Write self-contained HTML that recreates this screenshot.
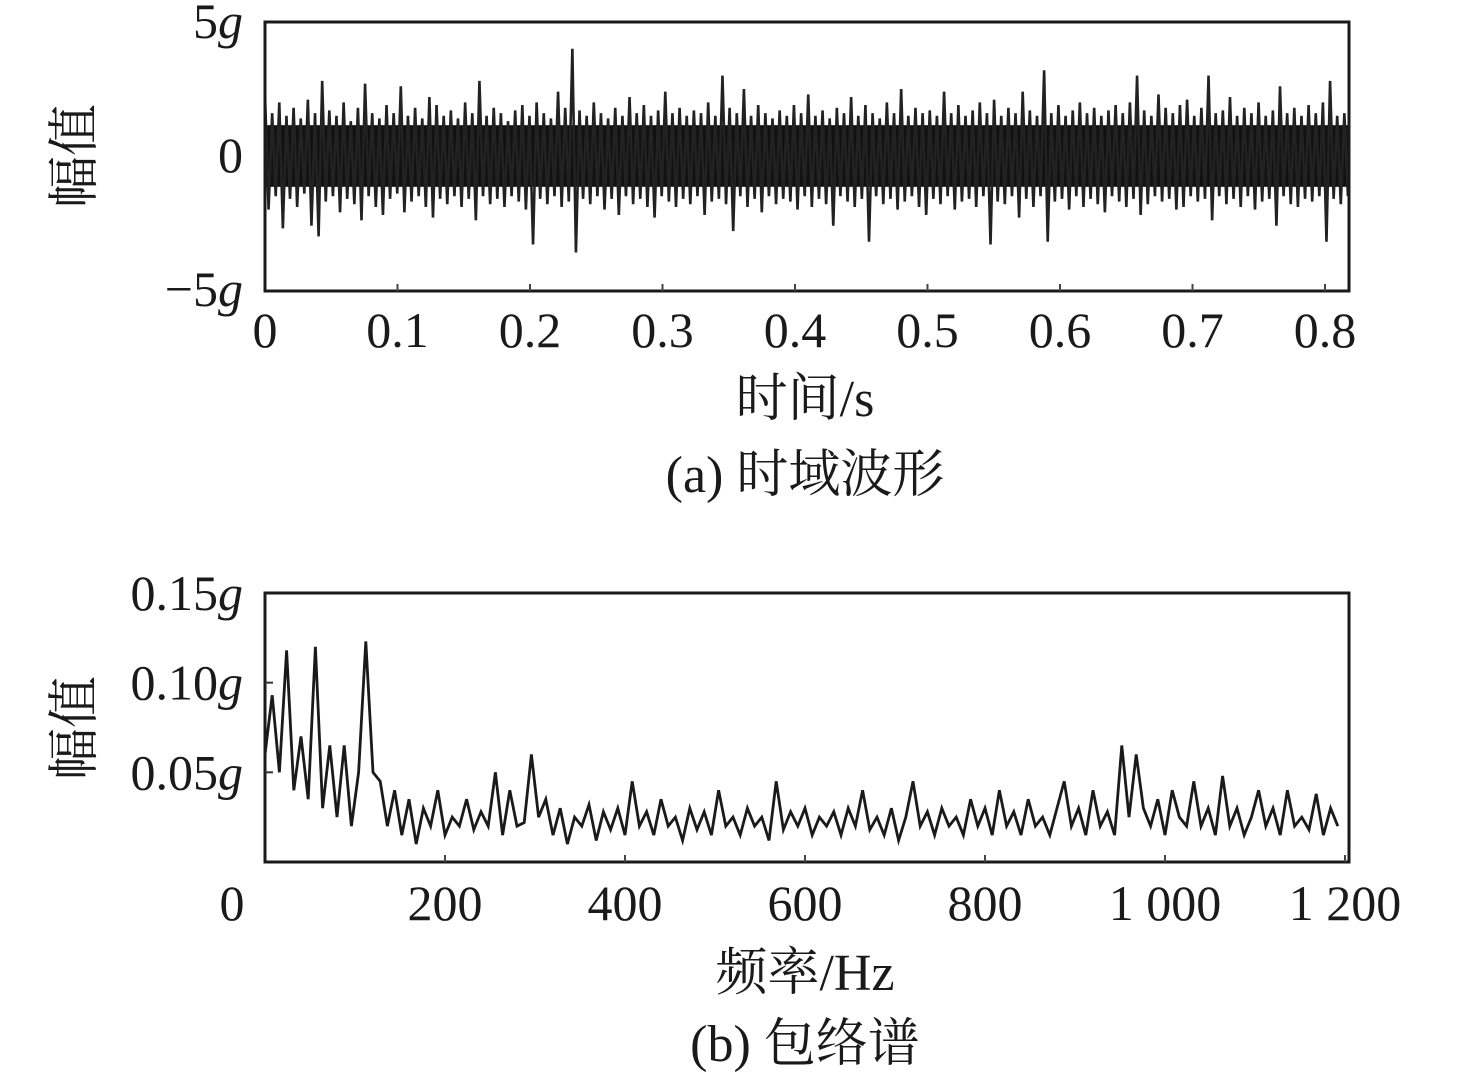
<!DOCTYPE html>
<html><head><meta charset="utf-8">
<style>
html,body{margin:0;padding:0;background:#fff;}
svg text{font-family:"Liberation Serif","Noto Serif CJK SC",serif;fill:#1a1a1a;}
</style></head>
<body>
<svg id="fig" width="1476" height="1077" viewBox="0 0 1476 1077" xmlns="http://www.w3.org/2000/svg">
<g id="topchart"></g>
<g id="botchart"></g>
</svg>
<script>
// Time-domain waveform envelope (g), 150 bins over 0..0.82 s
const timeUpper = [2.3,1.6,2.0,1.5,1.8,1.4,2.1,1.6,2.8,1.7,1.5,2.0,1.3,1.8,2.7,1.6,1.4,1.9,1.6,2.6,1.5,1.8,1.4,2.2,1.9,1.5,1.7,1.4,2.0,1.6,2.8,1.5,1.8,1.6,1.3,1.7,1.9,1.5,2.0,1.6,1.4,2.4,1.8,4.0,1.7,1.5,2.0,1.6,1.4,1.8,1.5,2.2,1.6,1.9,1.5,1.7,2.4,1.6,1.8,1.5,1.7,1.6,2.0,1.5,3.0,1.8,1.6,2.5,1.5,1.9,1.6,1.4,1.7,1.5,1.9,1.6,2.3,1.5,1.7,1.4,1.8,1.6,2.2,1.5,1.9,1.6,1.4,2.0,1.6,2.5,1.5,1.8,1.6,1.7,1.5,2.4,1.6,1.9,1.5,1.7,2.0,1.6,2.1,1.5,1.8,1.6,2.4,1.7,1.5,3.2,1.6,1.9,1.5,1.7,2.0,1.6,1.8,1.5,1.7,1.9,1.6,2.0,3.0,1.7,1.5,2.3,1.8,1.6,1.9,2.1,1.5,1.8,3.0,1.6,1.7,2.2,1.5,1.8,1.6,2.0,1.5,1.7,2.6,1.6,1.8,1.5,1.9,1.6,2.0,2.8,1.5,1.6];
const timeLower = [-2.0,-1.5,-2.7,-1.6,-1.9,-1.4,-2.6,-3.0,-1.7,-1.5,-2.1,-1.6,-1.8,-2.4,-1.5,-1.9,-2.2,-1.6,-1.4,-2.1,-1.7,-1.5,-1.9,-2.3,-1.6,-1.8,-1.5,-1.9,-1.6,-2.4,-1.5,-1.8,-1.6,-1.9,-1.5,-1.7,-2.0,-3.3,-1.6,-1.8,-1.5,-1.9,-1.7,-3.6,-1.6,-1.8,-1.5,-2.0,-1.6,-2.2,-1.5,-1.8,-1.6,-1.9,-2.3,-1.5,-1.7,-1.9,-1.6,-1.8,-1.5,-2.2,-1.7,-1.6,-1.8,-2.8,-1.5,-1.9,-1.6,-2.1,-1.5,-1.8,-1.6,-1.7,-2.0,-1.5,-1.9,-1.6,-1.8,-2.6,-1.5,-1.7,-1.9,-1.6,-3.2,-1.5,-1.8,-1.6,-2.0,-1.7,-1.5,-1.9,-2.2,-1.6,-1.8,-1.5,-2.0,-1.7,-1.6,-1.9,-1.5,-3.3,-1.7,-1.8,-1.5,-2.3,-1.6,-1.9,-1.5,-3.2,-1.7,-1.6,-2.0,-1.5,-1.9,-1.6,-1.8,-2.1,-1.5,-1.7,-1.9,-1.6,-2.2,-1.8,-1.5,-1.7,-1.6,-2.0,-1.9,-1.5,-1.7,-1.6,-2.4,-1.5,-1.8,-1.6,-1.9,-1.5,-2.0,-1.7,-1.6,-2.6,-1.5,-1.8,-1.9,-1.6,-1.7,-1.5,-3.2,-1.6,-1.8,-1.5];
const timeTicks = [0,0.1,0.2,0.3,0.4,0.5,0.6,0.7,0.8];
const timeTickLabels = ["0","0.1","0.2","0.3","0.4","0.5","0.6","0.7","0.8"];
const ampTicks = [5,0,-5];
const ampTickLabels = ["5g","0","\u22125g"];

// Envelope spectrum (g), 150 points at 8 Hz step
const specValues = [0.06,0.093,0.05,0.118,0.04,0.07,0.035,0.12,0.03,0.065,0.025,0.065,0.02,0.05,0.123,0.05,
0.045,0.02,0.04,0.015,0.035,0.01,0.03,0.02,0.04,0.015,0.025,0.02,0.035,0.018,0.028,0.02,0.05,0.015,0.04,0.02,0.022,0.06,0.025,0.035,
0.015,0.03,0.01,0.025,0.02,0.032,0.012,0.028,0.018,0.03,0.015,0.045,0.02,0.028,0.015,0.035,0.02,0.025,0.012,0.03,
0.018,0.028,0.015,0.04,0.02,0.025,0.015,0.03,0.02,0.025,0.012,0.045,0.018,0.028,0.02,0.03,0.015,0.025,0.02,0.028,
0.015,0.03,0.02,0.04,0.018,0.025,0.015,0.03,0.012,0.025,0.045,0.02,0.028,0.015,0.03,0.02,0.025,0.015,0.035,0.02,
0.03,0.015,0.04,0.02,0.028,0.015,0.035,0.02,0.025,0.015,0.03,0.045,0.02,0.03,0.015,0.04,0.02,0.028,0.015,0.065,
0.025,0.06,0.03,0.02,0.035,0.015,0.04,0.025,0.02,0.045,0.02,0.03,0.015,0.048,0.02,0.03,0.015,0.025,0.04,0.02,0.03,0.015,0.04,0.02,0.025,0.018,0.038,0.015,0.03,0.02];
const specStep = 8;
const freqTicks = [0,200,400,600,800,1000,1200];
const freqTickLabels = ["0","200","400","600","800","1 000","1 200"];
const specYTicks = [0.15,0.10,0.05];
const specYTickLabels = ["0.15g","0.10g","0.05g"];

const NS="http://www.w3.org/2000/svg";
function mk(tag,attrs,parent){const e=document.createElementNS(NS,tag);for(const k in attrs)e.setAttribute(k,attrs[k]);parent.appendChild(e);return e;}
const TICKFS=50, TITLEFS=52;

// ---------- top chart ----------
const topG=document.getElementById('topchart');
const T={x0:265,x1:1349,y0:22,y1:291};
const tx=t=>T.x0+t*(1325-265)/0.8;
const ty=v=>156-v*(156-22)/5;
let pts=[];
const nb=timeUpper.length, dt=0.82/nb;
for(let i=0;i<nb;i++){pts.push(tx(i*dt)+','+ty(timeUpper[i]));pts.push(tx(i*dt+dt*0.5)+','+ty(timeLower[i]));}
const band=mk('rect',{x:T.x0,y:ty(1.15),width:T.x1-T.x0,height:ty(-1.15)-ty(1.15),fill:'#111'},topG);


const wave=mk('polyline',{points:pts.join(' '),fill:'none',stroke:'#222','stroke-width':2.6},topG);


const f1=mk('rect',{x:T.x0,y:T.y0,width:T.x1-T.x0,height:T.y1-T.y0,fill:'none',stroke:'#1a1a1a','stroke-width':3},topG);


timeTicks.forEach((t,i)=>{
  if(i>0){const tk=mk('line',{x1:tx(t),x2:tx(t),y1:T.y1,y2:T.y1-7,stroke:'#444','stroke-width':2},topG);
  
  }
  const lb=mk('text',{x:tx(t),y:347,'font-size':TICKFS,'text-anchor':'middle'},topG);lb.textContent=timeTickLabels[i];
  
  
});
ampTicks.forEach((v,i)=>{
  const lb=mk('text',{x:243,y:ty(v)+16,'font-size':TICKFS,'text-anchor':'end'},topG);
  const s=ampTickLabels[i];
  if(s.endsWith('g')){lb.appendChild(document.createTextNode(s.slice(0,-1)));const g=mk('tspan',{'font-style':'italic'},lb);g.textContent='g';}
  else lb.textContent=s;
  
  
});
let t1=mk('text',{x:0,y:0,'font-size':TITLEFS,'text-anchor':'middle',transform:'translate(92,156) rotate(-90)'},topG);t1.textContent='幅值';


let t2=mk('text',{x:805,y:416,'font-size':TITLEFS,'text-anchor':'middle'},topG);t2.textContent='时间/s';


let t3=mk('text',{x:805,y:492,'font-size':TITLEFS,'text-anchor':'middle'},topG);t3.textContent='(a) 时域波形';



// ---------- bottom chart ----------
const botG=document.getElementById('botchart');
const B={x0:265,x1:1349,y0:593,y1:862};
const fx=f=>265+f*(1345-265)/1200;
const fy=v=>862-v*(862-593)/0.15;
let sp=specValues.map((v,i)=>fx(i*specStep)+','+fy(v)).join(' ');
const spec=mk('polyline',{points:sp,fill:'none',stroke:'#1a1a1a','stroke-width':2.8},botG);


const f2=mk('rect',{x:B.x0,y:B.y0,width:B.x1-B.x0,height:B.y1-B.y0,fill:'none',stroke:'#1a1a1a','stroke-width':3},botG);


freqTicks.forEach((f,i)=>{
  const x = i===0?232:fx(f);
  if(i>0){const tk=mk('line',{x1:fx(f),x2:fx(f),y1:B.y1,y2:B.y1-7,stroke:'#444','stroke-width':2},botG);
  
  }
  const lb=mk('text',{x:x,y:920,'font-size':TICKFS,'text-anchor':'middle'},botG);lb.textContent=freqTickLabels[i];
  
  
});
specYTicks.forEach((v,i)=>{
  if(i>0){const tk=mk('line',{x1:B.x0,x2:B.x0+8,y1:fy(v),y2:fy(v),stroke:'#333','stroke-width':2},botG);
  
  }
  const lb=mk('text',{x:243,y:fy(v)+17,'font-size':TICKFS,'text-anchor':'end'},botG);
  const s=specYTickLabels[i];
  lb.appendChild(document.createTextNode(s.slice(0,-1)));const g=mk('tspan',{'font-style':'italic'},lb);g.textContent='g';
  
  
});
let b1=mk('text',{x:0,y:0,'font-size':TITLEFS,'text-anchor':'middle',transform:'translate(92,728) rotate(-90)'},botG);b1.textContent='幅值';


let b2=mk('text',{x:805,y:990,'font-size':TITLEFS,'text-anchor':'middle'},botG);b2.textContent='频率/Hz';


let b3=mk('text',{x:805,y:1061,'font-size':TITLEFS,'text-anchor':'middle'},botG);b3.textContent='(b) 包络谱';


</script>
</body></html>
